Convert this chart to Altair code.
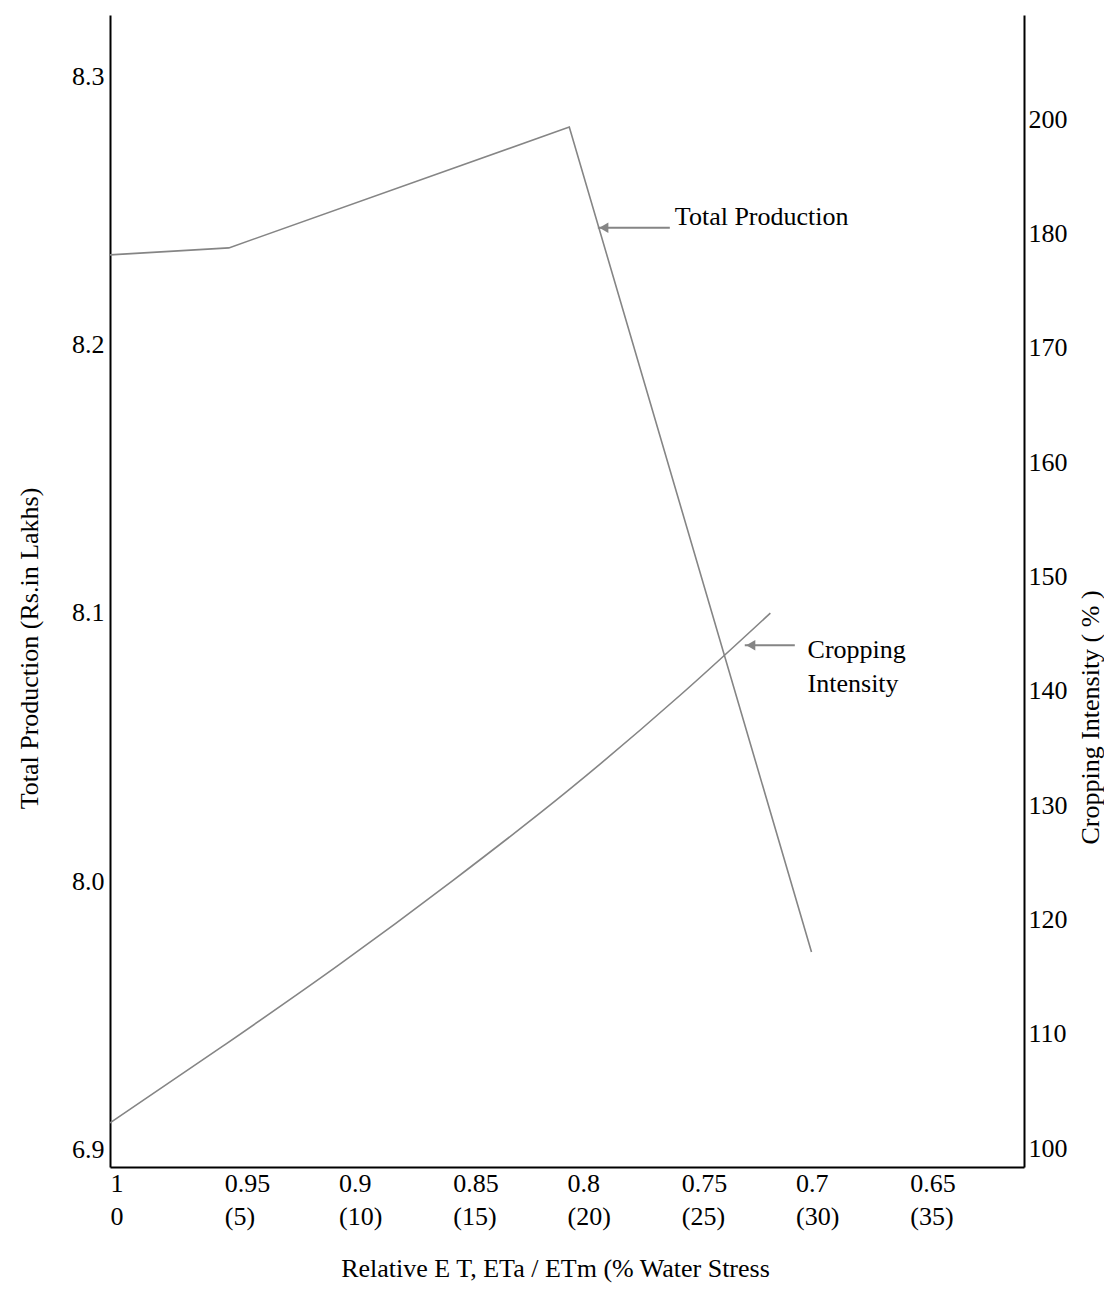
import altair as alt
import pandas as pd

# ---- axis ticks and labels ----
rel_et_ticks = [1.0, 0.95, 0.90, 0.85, 0.80, 0.75, 0.70, 0.65]
rel_et_labels = ["1", "0.95", "0.9", "0.85", "0.8", "0.75", "0.7", "0.65"]
stress_labels = ["0", "(5)", "(10)", "(15)", "(20)", "(25)", "(30)", "(35)"]

prod_ticks = [7.9, 8.0, 8.1, 8.2, 8.3]
prod_labels = ["6.9", "8.0", "8.1", "8.2", "8.3"]

ci_ticks = [100, 110, 120, 130, 140, 150, 160, 170, 180, 190]
ci_labels = ["100", "110", "120", "130", "140", "150", "160", "170", "180", "200"]

# ---- series ----
prod_x = [1.0, 0.948, 0.799, 0.693]
prod_y = [8.2336, 8.2362, 8.2813, 7.9735]

ci_x = [1.0, 0.95, 0.90, 0.85, 0.80, 0.75, 0.711]
ci_y = [102.2, 109.0, 116.0, 123.4, 131.2, 139.7, 146.8]

# ---- annotations (data units: x = relative ET, y = total production) ----
ann_text = ["Total Production", "Cropping\nIntensity"]
ann_text_x = [0.7528, 0.6947]
ann_text_y = [8.2478, 8.0862]
arrow_tip_x = [0.7865, 0.7222]
arrow_end_x = [0.7550, 0.7003]
arrow_y = [8.2437, 8.0880]

FONT = "Liberation Serif"
GRAY = "#858585"


def label_expr(vals, labels):
    expr = "''"
    for v, l in zip(vals, labels):
        expr = f"abs(datum.value - {v}) < 1e-6 ? '{l}' : ({expr})"
    return expr


def label_expr2(vals, l1, l2):
    expr = "''"
    for v, a, b in zip(vals, l1, l2):
        expr = f"abs(datum.value - {v}) < 1e-6 ? ['{a}', '{b}'] : ({expr})"
    return expr


x_scale = alt.Scale(domain=[1.0, 0.6], nice=False, zero=False)
yl_scale = alt.Scale(domain=[7.8933, 8.3231], nice=False, zero=False)
yr_scale = alt.Scale(domain=[98.34, 199.13], nice=False, zero=False)

x_axis = alt.Axis(
    values=rel_et_ticks,
    labelExpr=label_expr2(rel_et_ticks, rel_et_labels, stress_labels),
    title="Relative E T, ETa / ETm (% Water Stress",
    grid=False, ticks=False, tickSize=0,
    domainColor="black", domainWidth=2,
    labelAlign="left", labelBaseline="top", labelPadding=3,
    labelLineHeight=33, labelFlush=False, labelOverlap=False,
    titleX=445, titleY=101, titleBaseline="middle", titleAlign="center",
)

yl_axis = alt.Axis(
    orient="left",
    values=prod_ticks,
    labelExpr=label_expr(prod_ticks, prod_labels),
    title="Total Production (Rs.in Lakhs)",
    grid=False, ticks=False, tickSize=0,
    domainColor="black", domainWidth=2,
    labelPadding=6, labelBaseline="middle", labelFlush=False, labelOverlap=False,
    titleX=-81, titleY=633, titleBaseline="middle", titleAngle=270,
)

yr_axis = alt.Axis(
    orient="right",
    values=ci_ticks,
    labelExpr=label_expr(ci_ticks, ci_labels),
    title="Cropping Intensity ( % )",
    grid=False, ticks=False, tickSize=0,
    domainColor="black", domainWidth=2,
    labelPadding=4, labelBaseline="middle", labelFlush=False, labelOverlap=False,
    titleX=66, titleY=702, titleBaseline="middle", titleAngle=270,
)

X = alt.X("x:Q", scale=x_scale, axis=x_axis)
YL = alt.Y("y:Q", scale=yl_scale, axis=yl_axis)

prod_df = pd.DataFrame({"x": prod_x, "y": prod_y})
ci_df = pd.DataFrame({"x": ci_x, "y": ci_y})
text_df = pd.DataFrame({"x": ann_text_x, "y": ann_text_y, "t": ann_text})
arrow_df = pd.DataFrame({"x": arrow_tip_x, "x2": arrow_end_x, "y": arrow_y})

prod_line = alt.Chart(prod_df).mark_line(color=GRAY, strokeWidth=1.6).encode(x=X, y=YL)

arrows = alt.Chart(arrow_df).mark_rule(color=GRAY, strokeWidth=2).encode(
    x=X, x2="x2:Q", y=YL
)
heads = alt.Chart(arrow_df).mark_point(
    shape="triangle-left", filled=True, color=GRAY, size=110, opacity=1, xOffset=6
).encode(x=X, y=YL)
texts = alt.Chart(text_df).mark_text(
    align="left", baseline="middle", font=FONT, fontSize=26, color="black",
    lineBreak="\n", lineHeight=34
).encode(x=X, y=YL, text="t:N")

left_layer = alt.layer(prod_line, arrows, heads, texts)

ci_line = alt.Chart(ci_df).mark_line(
    color=GRAY, strokeWidth=1.6, interpolate="monotone"
).encode(
    x=X,
    y=alt.Y("y:Q", scale=yr_scale, axis=yr_axis),
)

chart = (
    alt.layer(left_layer, ci_line)
    .resolve_scale(y="independent")
    .properties(
        width=914,
        height=1152,
        autosize=alt.AutoSizeParams(type="none"),
        padding={"left": 102, "top": 7, "right": 80, "bottom": 117},
        background="white",
    )
    .configure_view(stroke=None)
    .configure_axis(
        labelFont=FONT, labelFontSize=26, labelColor="black",
        titleFont=FONT, titleFontSize=26, titleColor="black", titleFontWeight="normal",
    )
)

chart.save("out.html", embed_options={"renderer": "svg", "actions": False})
